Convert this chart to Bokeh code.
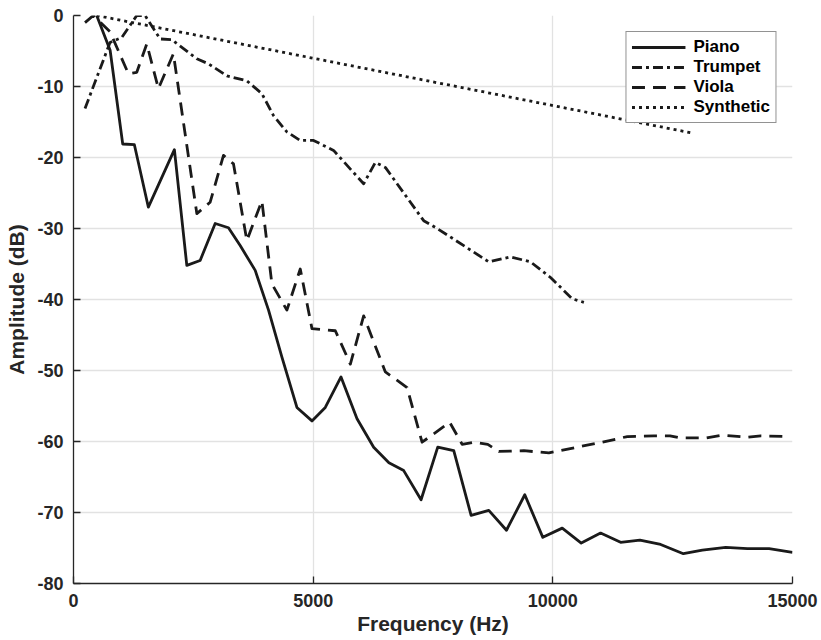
from bokeh.plotting import figure
from bokeh.models import Range1d, FixedTicker
from bokeh.embed import file_html
from bokeh.resources import INLINE

# ---- data ----
piano_f = [484, 764, 1027, 1270, 1562, 2105, 2364, 2642, 2956, 3233, 3477, 3791, 4069,
           4348, 4661, 4975, 5253, 5581, 5915, 6262, 6580, 6889, 7251, 7599, 7933, 8295,
           8664, 9033, 9415, 9791, 10196, 10593, 10996, 11414, 11817, 12249, 12723,
           13120, 13607, 14060, 14512, 15000]
piano_db = [0, -4.9, -18.1, -18.2, -27.0, -18.9, -35.2, -34.5, -29.3, -29.9, -32.4, -35.9,
            -41.5, -48.1, -55.2, -57.1, -55.2, -50.9, -56.8, -60.8, -63.0, -64.1, -68.2,
            -60.8, -61.3, -70.4, -69.7, -72.5, -67.5, -73.5, -72.2, -74.3, -72.9, -74.2,
            -73.9, -74.5, -75.8, -75.3, -74.9, -75.1, -75.1, -75.6]

trumpet_f = [240, 762, 1006, 1320, 1493, 1807, 2051, 2573, 2815, 3200, 3617, 3930, 4173,
             4452, 4731, 5008, 5426, 6053, 6297, 6506, 7306, 7586, 7933, 8664, 9117, 9534,
             9952, 10405, 10648]
trumpet_db = [-13.1, -3.8, -3.1, 0, 0, -3.3, -3.4, -6.1, -6.8, -8.5, -9.2, -11.0, -14.1,
              -16.4, -17.6, -17.6, -19.0, -23.7, -20.7, -21.4, -28.9, -30.0, -31.5, -34.7,
              -34.0, -34.7, -36.9, -39.9, -40.4]

viola_f = [240, 414, 762, 1145, 1320, 1529, 1771, 2084, 2573, 2851, 3129, 3338, 3617, 3930,
           4139, 4452, 4731, 4975, 5462, 5776, 6053, 6506, 6959, 7272, 7849, 8108, 8350,
           8643, 8873, 9395, 9917, 10509, 11032, 11554, 12110, 12444, 12667, 13189, 13538,
           14060, 14338, 14900]
viola_db = [-1.0, 0, -2.3, -8.2, -8.0, -4.0, -10.3, -5.4, -27.9, -26.3, -19.7, -20.9, -31.7,
            -26.1, -37.8, -41.5, -35.7, -44.1, -44.4, -49.1, -42.3, -50.2, -52.4, -60.1,
            -57.3, -60.4, -60.1, -60.4, -61.4, -61.3, -61.6, -60.8, -60.1, -59.3, -59.2,
            -59.2, -59.5, -59.5, -59.1, -59.4, -59.2, -59.3]

synth_f = [484, 12940]
synth_db = [0, -16.6]

x_ticks = [0, 5000, 10000, 15000]
y_ticks = [-80, -70, -60, -50, -40, -30, -20, -10, 0]

FONT = "Liberation Sans"
INK = "#262626"
LINE = "#1a1a1a"

p = figure(width=821, height=640, output_backend="svg", toolbar_location=None,
           x_range=Range1d(0, 15000), y_range=Range1d(-80, 0),
           min_border_left=73, min_border_right=29, min_border_top=15,
           min_border_bottom=57)
p.outline_line_color = None
p.background_fill_color = "white"
p.border_fill_color = "white"

p.line(piano_f, piano_db, line_color=LINE, line_width=2.8, line_join="round",
       legend_label="Piano")
p.line(trumpet_f, trumpet_db, line_color=LINE, line_width=2.8, line_join="round",
       line_dash="10 4 3 4", legend_label="Trumpet")
p.line(viola_f, viola_db, line_color=LINE, line_width=2.8, line_join="round",
       line_dash="13 8", legend_label="Viola")
p.line(synth_f, synth_db, line_color=LINE, line_width=2.8,
       line_dash="3 4", legend_label="Synthetic")

p.xaxis.ticker = FixedTicker(ticks=x_ticks)
p.yaxis.ticker = FixedTicker(ticks=y_ticks)
p.xaxis.major_label_overrides = {t: str(t) for t in x_ticks}
p.yaxis.major_label_overrides = {t: str(t) for t in y_ticks}

for ax in (p.xaxis, p.yaxis):
    ax.axis_line_color = INK
    ax.axis_line_width = 1.3
    ax.major_tick_line_color = INK
    ax.major_tick_line_width = 1.3
    ax.major_tick_in = 7
    ax.major_tick_out = 0
    ax.minor_tick_line_color = None
    ax.major_label_text_font = FONT
    ax.major_label_text_font_style = "bold"
    ax.major_label_text_font_size = "18px"
    ax.major_label_text_color = INK
    ax.major_label_standoff = 10
    ax.axis_label_text_font = FONT
    ax.axis_label_text_font_style = "bold"
    ax.axis_label_text_font_size = "21px"
    ax.axis_label_text_color = INK

p.xaxis.axis_label = "Frequency (Hz)"
p.yaxis.axis_label = "Amplitude (dB)"
p.xaxis.axis_label_standoff = 2
p.yaxis.axis_label_standoff = 6

for g in (p.xgrid, p.ygrid):
    g.grid_line_color = "#e2e2e2"
    g.grid_line_width = 1.3
p.xgrid.ticker = FixedTicker(ticks=x_ticks)
p.ygrid.ticker = FixedTicker(ticks=y_ticks)

lg = p.legend[0]
lg.location = "top_right"
lg.margin = 16
lg.padding = 5
lg.spacing = 0
lg.glyph_width = 54
lg.glyph_height = 20
lg.label_height = 20
lg.label_standoff = 8
lg.label_text_font = FONT
lg.label_text_font_style = "bold"
lg.label_text_font_size = "17px"
lg.label_text_color = "#000000"
lg.border_line_color = INK
lg.border_line_width = 1.3
lg.background_fill_color = "white"
lg.background_fill_alpha = 1.0

open("out.html", "w").write(file_html(p, INLINE))
